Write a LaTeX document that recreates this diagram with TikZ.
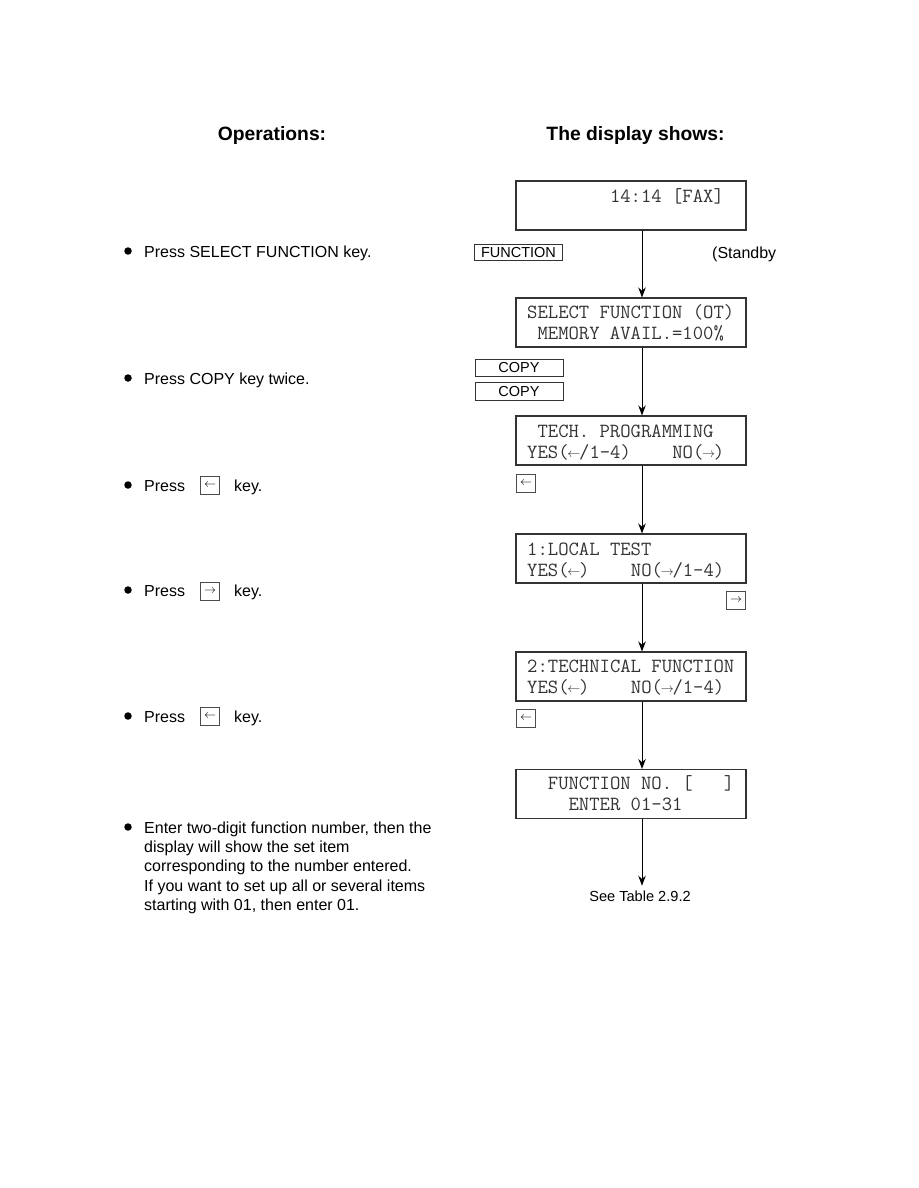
\documentclass[tikz,border=0pt]{standalone}
\usepackage{fontspec}
\usepackage{graphicx}
\setmainfont{Liberation Sans}
\usetikzlibrary{arrows.meta,positioning}

% arrows inside one character cell of the display font
\newcommand{\lcdl}{\makebox[0.525em]{\raisebox{1pt}{\resizebox{13pt}{!}{$\leftarrow$}}}}
\newcommand{\lcdr}{\makebox[0.525em]{\raisebox{1pt}{\resizebox{13pt}{!}{$\rightarrow$}}}}

\begin{document}
\begin{tikzpicture}[
  x=1pt, y=-1pt,
  font=\fontsize{16}{19.3}\selectfont,
  hd/.style={font=\fontsize{19.3}{23}\selectfont\bfseries, anchor=base, inner sep=0pt},
  op/.style={anchor=base west, inner sep=0pt},
  dot/.style={circle, fill=black, inner sep=0pt, minimum size=7.5pt},
  lcd/.style={draw=black!80, line width=1.1pt, minimum width=230pt,
              minimum height=49pt, inner sep=0pt},
  ln/.style={anchor=base west, inner sep=0pt, text=black!80,
             font=\fontsize{20.1}{21}\selectfont\ttfamily},
  keybox/.style={draw=black!80, line width=0.9pt, minimum width=88pt,
                 minimum height=17.5pt, inner sep=0pt,
                 font=\fontsize{14.5}{17}\selectfont},
  keysq/.style={draw=black!70, line width=0.7pt, minimum width=19pt,
                minimum height=18pt, inner sep=0pt,
                font=\fontsize{12}{12}\selectfont},
  flow/.style={-{Stealth[length=10pt,width=7.5pt]}, line width=1pt},
  note/.style={anchor=base, inner sep=0pt, inner ysep=4.5pt,
               font=\fontsize{14.6}{17}\selectfont},
]
\useasboundingbox (0,0) rectangle (918,1188);

% ---- headings ----
\node[hd] (hop)   at (272,140)   {Operations:};
\node[hd] (hdisp) at (635.5,140) {The display shows:};

% ---- display boxes ----
\coordinate (spine) at (642,0);
\node[lcd] (d1) at (631,205.5) {};
\node[lcd] (d2) at (631,322.5) {};
\node[lcd] (d3) at (631,440.5) {};
\node[lcd] (d4) at (631,558.5) {};
\node[lcd] (d5) at (631,676.5) {};
\node[lcd] (d6) at (631,794)   {};

\node[ln] (d1a) at (527,202) {~~~~~~~~14:14 [FAX]};
\node[ln] (d2a) at (527,318) {SELECT FUNCTION (OT)};
\node[ln] (d2b) at (527,339) {~MEMORY AVAIL.=100\%};
\node[ln] (d3a) at (527,437) {~TECH. PROGRAMMING};
\node[ln] (d3b) at (527,458) {YES(\lcdl/1-4)~~~~NO(\lcdr)};
\node[ln] (d4a) at (527,555) {1:LOCAL TEST};
\node[ln] (d4b) at (527,576) {YES(\lcdl)~~~~NO(\lcdr/1-4)};
\node[ln] (d5a) at (527,672) {2:TECHNICAL FUNCTION};
\node[ln] (d5b) at (527,693) {YES(\lcdl)~~~~NO(\lcdr/1-4)};
\node[ln] (d6a) at (527,789) {~~FUNCTION NO. [~~~]};
\node[ln] (d6b) at (527,810) {~~~~ENTER 01-31};

\node[note] (see) at (640,901) {See Table 2.9.2};

\foreach \a/\b in {d1/d2, d2/d3, d3/d4, d4/d5, d5/d6}
  \draw[flow] (\a.south -| spine) -- (\b.north -| spine);
\draw[flow] (d6.south -| spine) -- (see.north -| spine);

% ---- keys beside the flow ----
\node[keybox, minimum height=16.5pt] (kfn) at (518.5,252.5) {FUNCTION};
\node[op] (stby) at (712,258) {(Standby};
\node[keybox] (kc1) at (519,368) {COPY};
\node[keybox, below=5pt of kc1] (kc2) {COPY};
\node[keysq] (kl1) at (526,483.5) {$\leftarrow$};
\node[keysq] (kr1) at (736,600)   {$\rightarrow$};
\node[keysq] (kl2) at (526,718.5) {$\leftarrow$};

% ---- operations column ----
\node[dot] (b1) at (128,251) {};
\node[op]  (o1) at (144,257) {Press SELECT FUNCTION key.};
\node[dot] (b2) at (128,378) {};
\node[op]  (o2) at (144,384) {Press COPY key twice.};

\node[dot] (b3) at (128,485) {};
\node[op]  (o3) at (144,491) {Press};
\node[keysq] (o3k) at (210,485) {$\leftarrow$};
\node[op]  (o3e) at (234,491) {key.};

\node[dot] (b4) at (128,590) {};
\node[op]  (o4) at (144,596) {Press};
\node[keysq] (o4k) at (210,591.5) {$\rightarrow$};
\node[op]  (o4e) at (234,596) {key.};

\node[dot] (b5) at (128,716) {};
\node[op]  (o5) at (144,722) {Press};
\node[keysq] (o5k) at (210,716.5) {$\leftarrow$};
\node[op]  (o5e) at (234,722) {key.};

\node[dot] (b6) at (128,827) {};
\node[op, anchor=north west, align=left] (o6) at (144,821.5)
  {Enter two-digit function number, then the\\
   display will show the set item\\
   corresponding to the number entered.\\
   If you want to set up all or several items\\
   starting with 01, then enter 01.};
\end{tikzpicture}
\end{document}
